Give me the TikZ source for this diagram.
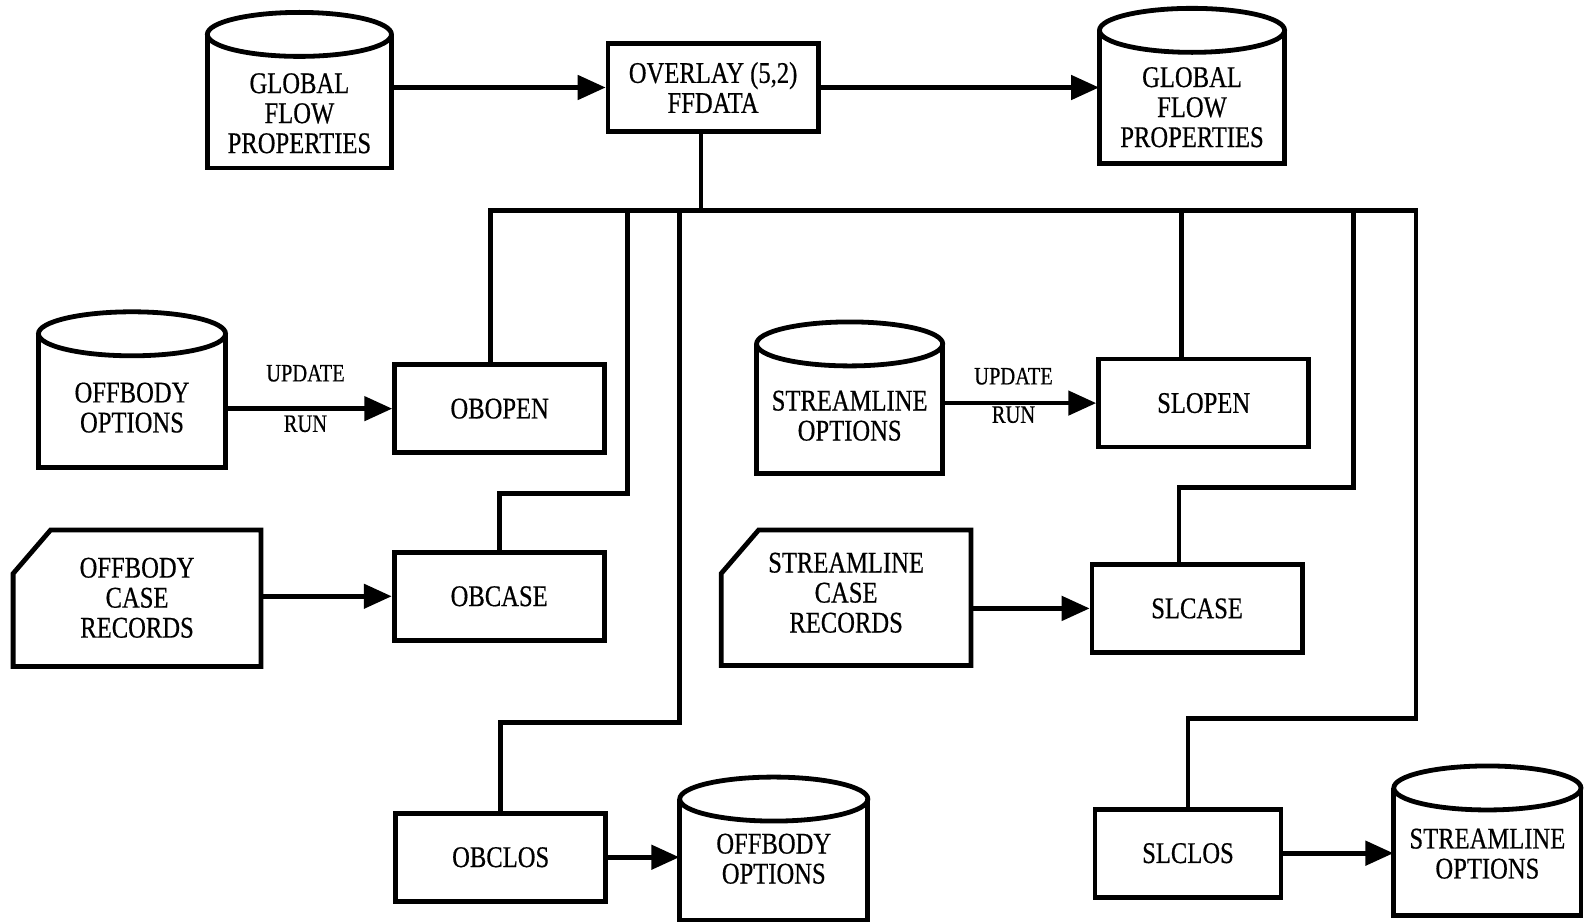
\documentclass[tikz,border=0pt]{standalone}
\usepackage{fontspec}
\setmainfont{Liberation Serif}[FakeStretch=0.82, FakeBold=0.5]
\usetikzlibrary{arrows.meta}

\tikzset{
  line/.style={line width=2.4pt},
  arr/.style={line width=2.4pt, -{Triangle[length=14pt,width=12pt]}},
  txt/.style={align=center, inner sep=0pt, font=\fontsize{15}{15}\selectfont},
  proc/.style={txt, draw, line width=2.4pt, minimum width=105pt, minimum height=44pt},
  small/.style={inner sep=0pt, font=\fontsize{12.5}{12.5}\selectfont}
}

% data store: name, x left, x right, y top, y bottom, text y, text
\newcommand{\dbstore}[7]{%
  \draw[line] (#2,#4+22) -- (#2,#5) -- (#3,#5) -- (#3,#4+22);
  \draw[line] ({(#2+#3)/2},#4+22) ellipse [x radius={(#3-#2)/4*1.0115pt}, y radius=11pt];
  \node[txt, minimum width={(#3-#2)*0.5057pt}] (#1) at ({(#2+#3)/2},#6) {#7};
}

% punched card: name, x left, x right, y top, y bottom, text y, text
\newcommand{\cardrec}[7]{%
  \draw[line] (#2,#4+43) -- (#2+37,#4) -- (#3,#4) -- (#3,#5) -- (#2,#5) -- cycle;
  \node[txt, minimum width={(#3-#2)*0.5057pt}] (#1) at ({(#2+#3)/2},#6) {#7};
}

\begin{document}
\begin{tikzpicture}[x=0.5057pt, y=-0.5057pt]
\useasboundingbox (0,0) rectangle (1568,910.6);

% files
\dbstore{gfpin}{205}{387}{12}{166}{112}{GLOBAL\\FLOW\\PROPERTIES}
\dbstore{gfpout}{1087}{1270}{8}{162}{106}{GLOBAL\\FLOW\\PROPERTIES}
\dbstore{obopt}{38}{223}{308}{462}{403}{OFFBODY\\OPTIONS}
\dbstore{slopt}{748}{932}{318}{468}{411}{STREAMLINE\\OPTIONS}
\dbstore{oboptout}{672}{858}{768}{910}{849}{OFFBODY\\OPTIONS}
\dbstore{sloptout}{1378}{1563}{757}{905}{844}{STREAMLINE\\OPTIONS}
\cardrec{obcr}{13}{258}{524}{659}{591}{OFFBODY\\CASE\\RECORDS}
\cardrec{slcr}{713}{960}{524}{658}{586}{STREAMLINE\\CASE\\RECORDS}

% routines
\node[proc] (ovl) at (705,86.5) {OVERLAY (5,2)\\FFDATA};
\node[proc] (obopen) at (494,404) {OBOPEN};
\node[proc] (obcase) at (493.5,589.5) {OBCASE};
\node[proc] (obclos) at (495,847.5) {OBCLOS};
\node[proc] (slopen) at (1190,398.5) {SLOPEN};
\node[proc] (slcase) at (1183.5,601.5) {SLCASE};
\node[proc, minimum width=93pt] (slclos) at (1174.5,843.5) {SLCLOS};

% data flow
\draw[arr] (ovl.west -| gfpin.east) -- (ovl.west);
\draw[arr] (ovl.east) -- (ovl.east -| gfpout.west);
\draw[arr] (obopen.west -| obopt.east) -- (obopen.west);
\draw[arr] (obcase.west -| obcr.east) -- (obcase.west);
\draw[arr] (slopen.west -| slopt.east) -- (slopen.west);
\draw[arr] (slcase.west -| slcr.east) -- (slcase.west);
\draw[arr] (obclos.east) -- (obclos.east -| oboptout.west);
\draw[arr] (slclos.east) -- (slclos.east -| sloptout.west);

\node[small] (obupd) at (302,369) {UPDATE};
\node[small] (obrun) at (302,419) {RUN};
\node[small] (slupd) at (1002,372) {UPDATE};
\node[small] (slrun) at (1002,410) {RUN};

% calling tree
\coordinate (stem) at ([xshift=-6pt]ovl.south);
\coordinate (busL) at (485,208);
\coordinate (busR) at (1400,208);
\coordinate (tapcase) at (620,208);
\coordinate (tapclos) at (672,208);
\coordinate (tapslopen) at (1168,208);
\coordinate (tapslcase) at (1338,208);
\draw[line] (stem) -- (stem |- busL);
\draw[line] (obopen.north -| busL) -- (busL) -- (busR) -- ++(0,502) -| (slclos.north);
\draw[line] (tapcase) -- ++(0,280) -| (obcase.north);
\draw[line] (tapclos) -- ++(0,506) -| (obclos.north);
\draw[line] (tapslopen) -- (tapslopen |- slopen.north);
\draw[line] (tapslcase) -- ++(0,274) -| ([xshift=-9pt]slcase.north);
\end{tikzpicture}
\end{document}
